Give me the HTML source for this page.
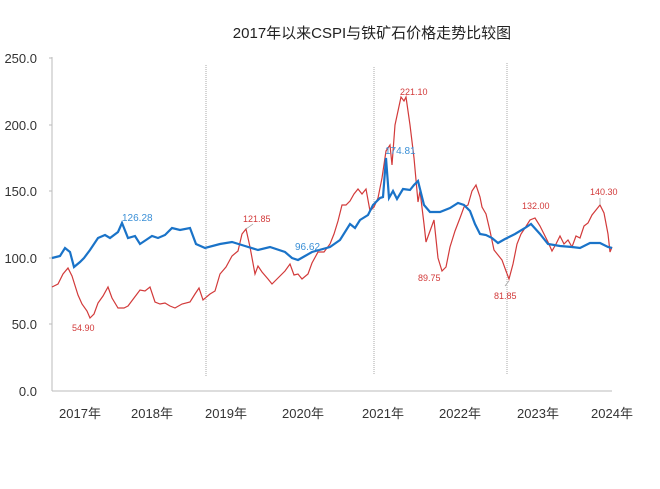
<!DOCTYPE html>
<html><head><meta charset="utf-8"><style>
body{margin:0;background:#fff}
svg text{font-family:"Liberation Sans","Noto Sans CJK SC",sans-serif}
</style></head><body>
<svg width="660" height="484" viewBox="0 0 660 484" xmlns="http://www.w3.org/2000/svg">
<text x="372" y="38" text-anchor="middle" font-size="15" fill="#222">2017年以来CSPI与铁矿石价格走势比较图</text>
<g font-size="13" fill="#333" text-anchor="end">
<text x="37" y="63">250.0</text><text x="37" y="130">200.0</text><text x="37" y="196">150.0</text>
<text x="37" y="263">100.0</text><text x="37" y="329">50.0</text><text x="37" y="396">0.0</text>
</g>
<line x1="52" y1="57" x2="52" y2="391" stroke="#bbb"/>
<line x1="52" y1="391" x2="612" y2="391" stroke="#bbb"/>
<g stroke="#bbb" stroke-width="1"><line x1="49" y1="58" x2="52" y2="58"/><line x1="49" y1="125" x2="52" y2="125"/><line x1="49" y1="191" x2="52" y2="191"/><line x1="49" y1="258" x2="52" y2="258"/><line x1="49" y1="324" x2="52" y2="324"/></g>
<g stroke="#aaa" stroke-dasharray="1,1"><line x1="206" y1="65" x2="206" y2="376"/><line x1="374" y1="67" x2="374" y2="374"/><line x1="507" y1="63" x2="507" y2="374"/></g>
<g font-size="13" fill="#333" text-anchor="middle">
<text x="80" y="418">2017年</text><text x="152" y="418">2018年</text><text x="226" y="418">2019年</text><text x="303" y="418">2020年</text>
<text x="383" y="418">2021年</text><text x="460" y="418">2022年</text><text x="538" y="418">2023年</text><text x="612" y="418">2024年</text>
</g>
<polyline fill="none" stroke="#d23a3a" stroke-width="1.2" points="52,287 58,284 63,274 68,268 72,276 78,295 82,304 87,311 90,318 94,314 98,303 103,296 108,287 112,298 118,308 124,308 128,306 134,298 140,290 145,291 150,287 155,302 160,304 165,303 170,306 175,308 182,304 190,302 195,294 199,288 203,300 210,294 215,291 220,274 226,267 232,256 238,251 242,234 246,229 250,247 255,274 258,266 262,272 268,279 272,284 278,278 285,271 290,264 294,275 298,274 302,279 308,274 312,263 318,252 324,252 330,244 334,234 338,221 342,205 346,205 350,201 354,194 358,189 362,194 366,189 370,211 374,207 378,198 382,178 386,151 390,145 392,165 395,125 398,111 401,97 404,101 406,97 410,125 414,158 418,202 420,191 424,224 426,242 430,231 434,220 438,258 442,271 446,267 450,247 455,231 460,218 464,207 468,205 472,191 476,185 480,197 482,207 486,214 490,231 494,250 498,255 502,260 506,271 509,279 513,264 517,244 521,234 525,228 530,220 535,218 540,226 544,234 548,242 552,251 556,244 560,236 564,244 568,240 572,247 576,236 580,238 584,226 588,223 592,215 596,210 600,205 604,213 608,234 610,252 612,247"/>
<polyline fill="none" stroke="#1a73c8" stroke-width="2.2" points="52,258 60,256 65,248 70,252 74,267 80,262 84,258 90,250 98,238 105,235 110,238 118,232 122,223 128,238 135,236 140,244 146,240 152,236 158,238 165,235 172,228 180,230 190,228 196,244 205,248 220,244 232,242 245,246 258,250 270,247 285,252 292,258 298,260 305,256 312,252 330,247 340,240 350,224 355,228 360,220 368,215 373,205 380,198 383,197 386,158 389,198 393,191 397,199 403,189 410,190 414,185 418,181 424,205 430,212 440,212 450,208 458,203 464,205 470,211 475,224 480,234 486,235 492,238 498,243 505,239 515,234 525,228 531,224 540,234 548,244 560,246 572,247 580,248 590,243 600,243 608,247 612,248"/>
<g font-size="9">
<text x="122" y="221" fill="#3a8fd6" font-size="10">126.28</text>
<text x="72" y="331" fill="#d23a3a">54.90</text>
<text x="243" y="222" fill="#d23a3a">121.85</text>
<text x="295" y="250" fill="#3a8fd6" font-size="10">96.62</text>
<text x="400" y="95" fill="#d23a3a">221.10</text>
<text x="385" y="154" fill="#3a8fd6" font-size="10">174.81</text>
<text x="418" y="281" fill="#d23a3a">89.75</text>
<text x="494" y="299" fill="#d23a3a">81.85</text>
<text x="522" y="209" fill="#d23a3a">132.00</text>
<text x="590" y="195" fill="#d23a3a">140.30</text>
</g>
<g stroke="#999" stroke-width="0.7"><line x1="246" y1="229" x2="253" y2="224"/><line x1="509" y1="281" x2="505" y2="286"/><line x1="600" y1="205" x2="600" y2="198"/></g>
</svg>
</body></html>
